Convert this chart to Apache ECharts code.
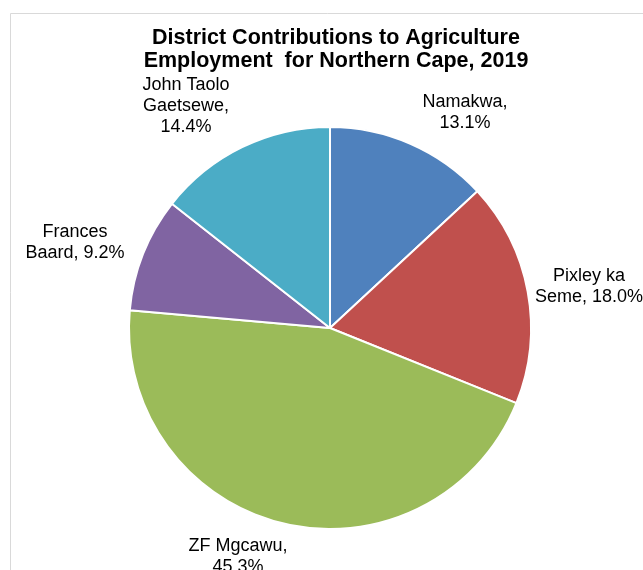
<!DOCTYPE html>
<html>
<head>
<meta charset="utf-8">
<script src="https://cdn.jsdelivr.net/npm/echarts@6/dist/echarts.min.js"></script>
<style>html,body{margin:0;padding:0;background:#fff;}#c{width:643px;height:570px;}</style>
</head>
<body>
<div id="c"></div>
<script>
var categories = ['Namakwa', 'Pixley ka Seme', 'ZF Mgcawu', 'Frances Baard', 'John Taolo Gaetsewe'];
var shares = [13.1, 18.0, 45.3, 9.2, 14.4];
var colors = ['#4F81BD', '#C0504D', '#9BBB59', '#8064A2', '#4BACC6'];

// label text wrapping and placement (layout only)
var wrapped = {
  'Namakwa': function (v) { return 'Namakwa,\n' + v; },
  'Pixley ka Seme': function (v) { return 'Pixley ka\nSeme, ' + v; },
  'ZF Mgcawu': function (v) { return 'ZF Mgcawu,\n' + v; },
  'Frances Baard': function (v) { return 'Frances\nBaard, ' + v; },
  'John Taolo Gaetsewe': function (v) { return 'John Taolo\nGaetsewe,\n' + v; }
};
var labelPos = [[465, 113], [589, 287], [238, 557], [75, 243], [186, 106]];

var chart = echarts.init(document.getElementById('c'), null, {renderer: 'canvas'});
chart.setOption({
  animation: false,
  color: colors,
  graphic: [{
    type: 'rect', silent: true, z: -1,
    shape: {x: 10.5, y: 13.5, width: 700, height: 700},
    style: {fill: 'none', stroke: '#D9D9D9', lineWidth: 1}
  }],
  title: {
    text: 'District Contributions to Agriculture\nEmployment  for Northern Cape, 2019',
    left: 331, top: 22, textAlign: 'center',
    textStyle: {fontFamily: 'Liberation Sans', fontSize: 21.5, fontWeight: 'bold', color: '#000', lineHeight: 23}
  },
  series: [{
    type: 'pie',
    center: [330, 328],
    radius: [0, 201],
    startAngle: 90,
    clockwise: true,
    avoidLabelOverlap: false,
    itemStyle: {borderColor: '#fff', borderWidth: 2},
    label: {
      show: true, position: 'outside',
      fontFamily: 'Liberation Sans', fontSize: 18, lineHeight: 21, color: '#000', align: 'center',
      formatter: function (p) { return wrapped[p.name](p.value.toFixed(1) + '%'); }
    },
    labelLine: {show: false},
    labelLayout: function (p) {
      var c = labelPos[p.dataIndex];
      return {x: c[0], y: c[1], align: 'center', verticalAlign: 'middle'};
    },
    data: categories.map(function (n, i) { return {name: n, value: shares[i]}; })
  }]
});
</script>
</body>
</html>
